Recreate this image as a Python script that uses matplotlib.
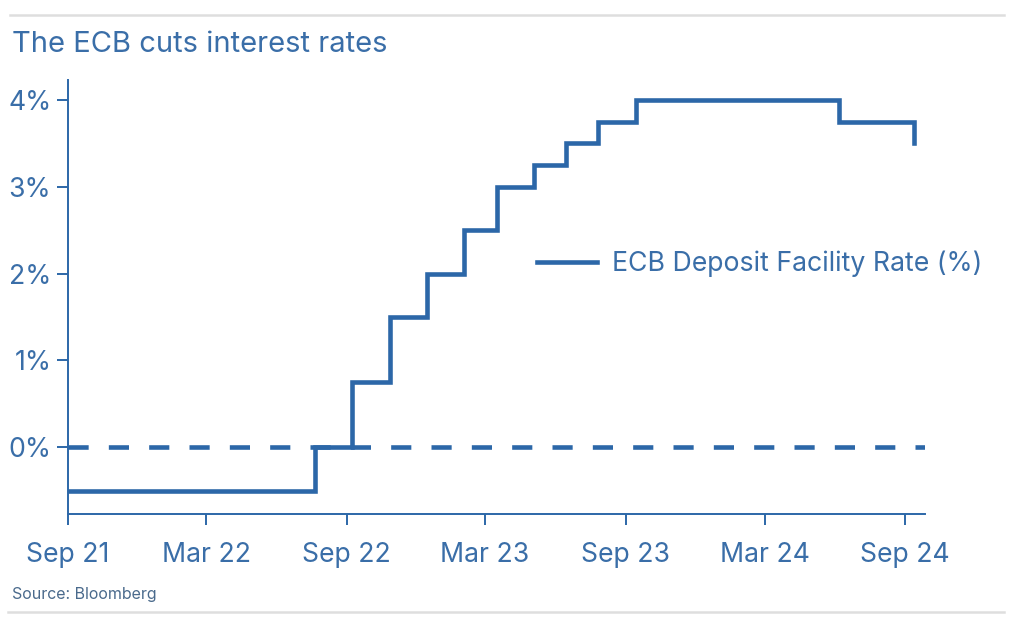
import matplotlib
matplotlib.use("Agg")
import matplotlib.pyplot as plt
from matplotlib.lines import Line2D
from datetime import datetime

# ECB deposit facility rate, at each decision date (%)
dates = ["2021-09-01", "2022-07-21", "2022-09-08", "2022-10-27", "2022-12-15",
         "2023-02-02", "2023-03-16", "2023-05-04", "2023-06-15", "2023-07-27",
         "2023-09-14", "2024-06-06", "2024-09-12"]
rates = [-0.5, 0.0, 0.75, 1.5, 2.0, 2.5, 3.0, 3.25, 3.5, 3.75, 4.0, 3.75, 3.5]

tick_dates = ["2021-09-01", "2022-03-01", "2022-09-01", "2023-03-01",
              "2023-09-01", "2024-03-01", "2024-09-01"]
tick_labels = ["Sep 21", "Mar 22", "Sep 22", "Mar 23", "Sep 23", "Mar 24", "Sep 24"]
y_ticks = [0, 1, 2, 3, 4]

blue = "#2c67a8"
text_blue = "#3a6ea8"
grey = "#dedede"

plt.rcParams['font.family'] = ['Inter', 'DejaVu Sans']

fig = plt.figure(figsize=(10.14, 6.31), dpi=100)
ax = fig.add_axes([68 / 1014, 1 - 514 / 631, (925 - 68) / 1014, (514 - 80) / 631])

x = [datetime.strptime(d, "%Y-%m-%d") for d in dates]
ax.step(x, rates, where="post", color=blue, lw=3.3, solid_joinstyle="miter")
ax.axhline(0, color=blue, lw=3.3, linestyle=(0, (4.4, 4.4)))

ax.set_xlim(datetime(2021, 9, 1), datetime(2024, 9, 27))
ax.set_ylim(-0.77, 4.23)

ax.set_xticks([datetime.strptime(d, "%Y-%m-%d") for d in tick_dates])
ax.set_xticklabels(tick_labels)
ax.set_yticks(y_ticks)
ax.set_yticklabels([f"{v}%" for v in y_ticks])

for side in ["top", "right"]:
    ax.spines[side].set_visible(False)
for side in ["left", "bottom"]:
    ax.spines[side].set_color(blue)
    ax.spines[side].set_linewidth(1.4)
ax.tick_params(axis="both", colors=blue, width=1.4, length=8, labelsize=19.2,
               labelcolor=text_blue)
ax.tick_params(axis="x", pad=12)
ax.tick_params(axis="y", pad=4)

ax.legend(handles=[Line2D([0], [0], color=blue, lw=3.3)],
          labels=["ECB Deposit Facility Rate (%)"],
          loc="center left", bbox_to_anchor=(537 / 1014, 1 - 264 / 631),
          bbox_transform=fig.transFigure, frameon=False, fontsize=19.2,
          handlelength=2.25, handletextpad=0.56, borderpad=0, borderaxespad=0,
          labelcolor=text_blue)

fig.text(12 / 1014, 1 - 45 / 631, "The ECB cuts interest rates", fontsize=21,
         color=text_blue, va="center", ha="left")
fig.text(12 / 1014, 1 - 594 / 631, "Source: Bloomberg", fontsize=11.5,
         color="#4a6a8c", va="center", ha="left")

fig.add_artist(Line2D([10 / 1014, 1004 / 1014], [1 - 15 / 631, 1 - 15 / 631],
                      color=grey, lw=1.8))
fig.add_artist(Line2D([8 / 1014, 1004 / 1014], [1 - 612 / 631, 1 - 612 / 631],
                      color=grey, lw=1.8))

fig.savefig("out.png", dpi=100)
